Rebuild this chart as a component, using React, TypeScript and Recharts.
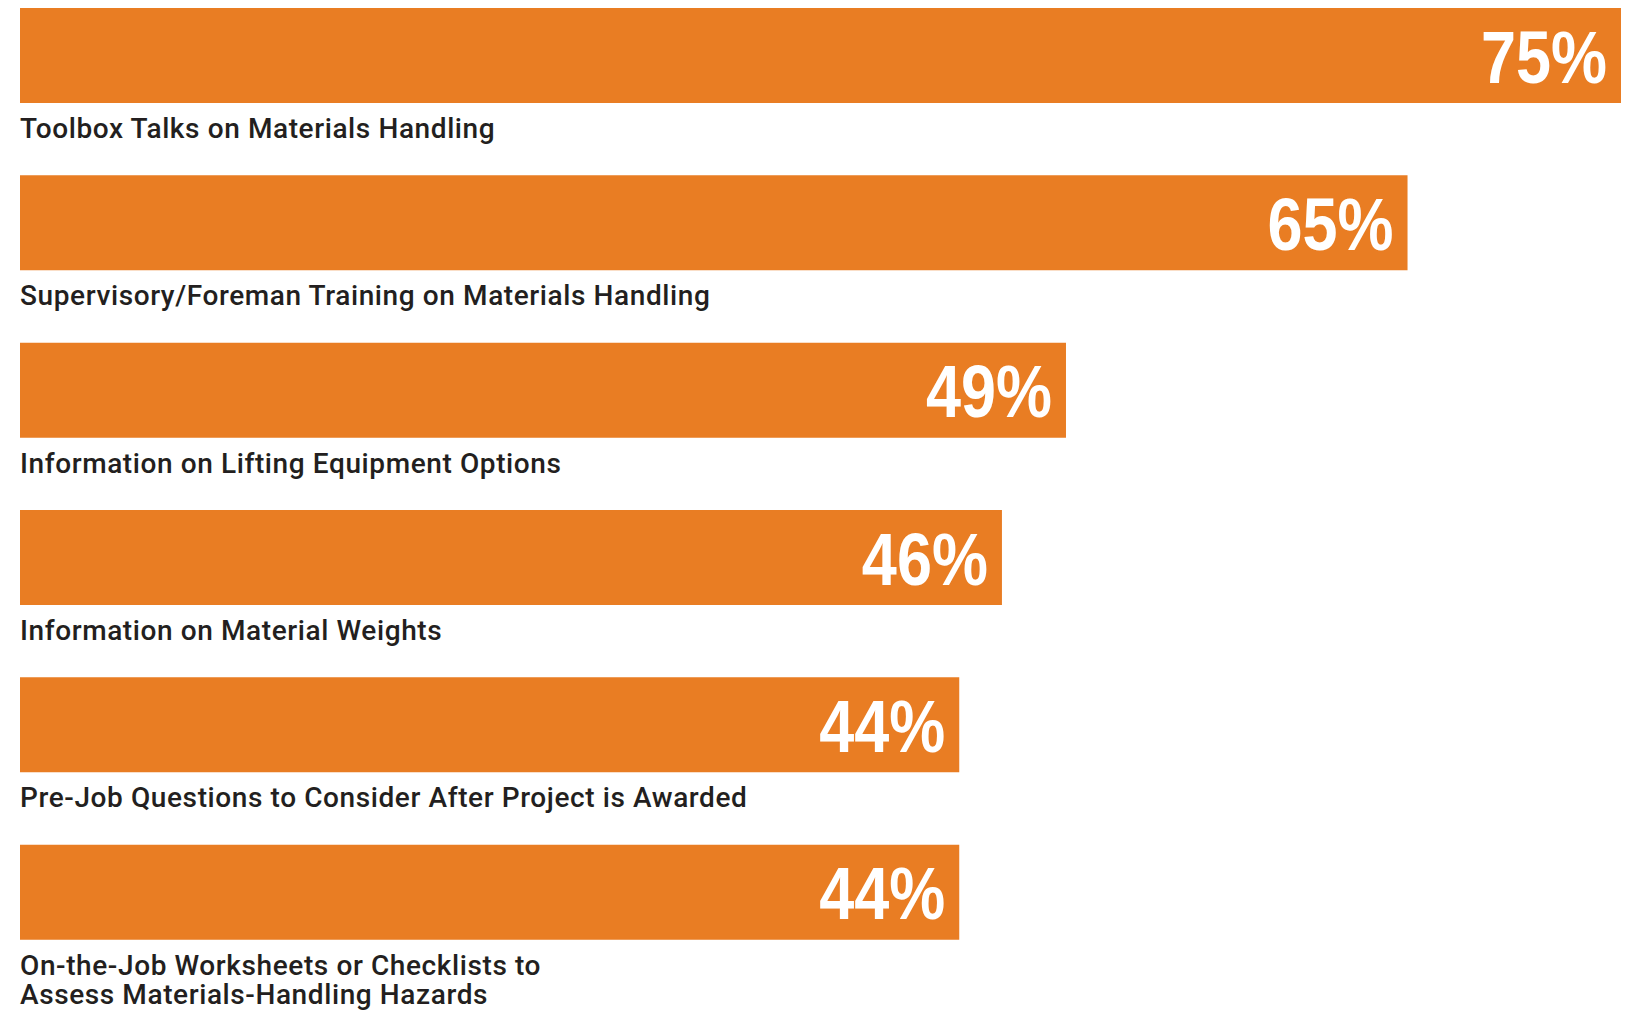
import React from 'react';
import { BarChart, Bar, XAxis, YAxis, LabelList } from 'recharts';

/* ── Materials handling resources chart ── */

const categories = [
  'Toolbox Talks on Materials Handling',
  'Supervisory/Foreman Training on Materials Handling',
  'Information on Lifting Equipment Options',
  'Information on Material Weights',
  'Pre-Job Questions to Consider After Project is Awarded',
  'On-the-Job Worksheets or Checklists to\nAssess Materials-Handling Hazards',
];

const shares = [75, 65, 49, 46, 44, 44];

const data = categories.map((name, i) => ({ name, value: shares[i] }));

const ORANGE = '#E97D23';
const INK = '#231F20';

function CategoryLabel(props: any) {
  const { x, y, height, value } = props;
  const lines = String(value).split('\n');
  return (
    <text
      x={x}
      y={y + height + 35}
      fill={INK}
      fontFamily="Roboto, 'DejaVu Sans', sans-serif"
      fontWeight={500}
      fontSize={28}
      letterSpacing={0.6}
    >
      {lines.map((l, i) => (
        <tspan key={i} x={x} dy={i === 0 ? 0 : 29}>
          {l}
        </tspan>
      ))}
    </text>
  );
}

// condensed bold look: squeeze the glyphs horizontally
function ValueLabel(props: any) {
  const { x, y, width, height, value } = props;
  return (
    <text
      transform={`translate(${x + width - 14}, ${y + height / 2 + 27}) scale(0.84, 1)`}
      fill="#fff"
      textAnchor="end"
      fontFamily="'Liberation Sans', Arial, sans-serif"
      fontWeight={700}
      fontSize={75}
    >
      {value}%
    </text>
  );
}

export default function App() {
  return (
    <div style={{ position: 'absolute', left: 0, top: 0, background: '#fff' }}>
      <BarChart
        width={1636}
        height={1012}
        data={data}
        layout="vertical"
        margin={{ top: -28, right: 15, bottom: 36, left: 20 }}
        barSize={95}
      >
        <XAxis type="number" domain={[0, 75]} hide />
        <YAxis type="category" dataKey="name" hide />
        <Bar dataKey="value" fill={ORANGE} isAnimationActive={false}>
          <LabelList dataKey="name" content={<CategoryLabel />} />
          <LabelList dataKey="value" content={<ValueLabel />} />
        </Bar>
      </BarChart>
    </div>
  );
}
